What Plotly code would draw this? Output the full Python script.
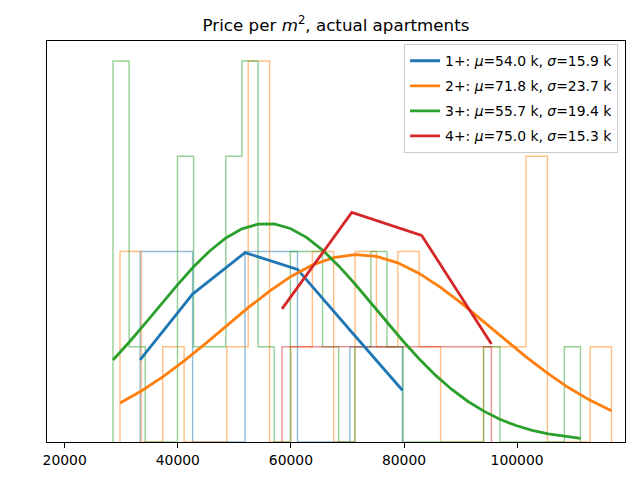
import plotly.graph_objects as go

# ---- data ----
groups = ["1+", "2+", "3+", "4+"]
mu_k = [54.0, 71.8, 55.7, 75.0]
sigma_k = [15.9, 23.7, 19.4, 15.3]
colors = ["31,119,180", "255,127,14", "44,160,44", "214,39,40"]

# histogram bin edges (price per m2) and counts
blue_edges = [33333, 42617, 51883, 61167, 70433, 79717]
blue_counts = [2, 0, 2, 0, 1]

orange_edges = [29779, 33558, 37337, 41116, 44895, 48674, 52453, 56232, 60011,
                63790, 67569, 71348, 75127, 78906, 82685, 86464, 90243, 94022,
                97801, 101580, 105359, 109138, 112917, 116696]
orange_counts = [2, 0, 1, 0, 0, 1, 4, 0, 1, 2, 0, 2, 1, 2, 1, 0, 0, 1, 1, 3, 0, 0, 1]

green_edges = [28541, 31392, 34242, 37093, 39943, 42794, 45645, 48495, 51346,
               54196, 57047, 59898, 62748, 65599, 68449, 71300, 74151, 77001,
               79852, 82702, 85553, 88404, 91254, 94105, 96955, 99806, 102657,
               105507, 108358, 111208]
green_counts = [4, 1, 0, 0, 3, 1, 1, 3, 4, 1, 0, 2, 2, 1, 0, 1, 2, 1, 0, 0, 0,
                0, 0, 1, 0, 0, 0, 0, 1]

red_edges = [58426, 70769, 83113, 95456]
red_counts = [1, 1, 1]

# fitted-normal curve heights at the bin edges (same vertical units as counts)
blue_curve = [0.862, 1.553, 1.988, 1.812, 1.176, 0.543]
orange_curve = [0.409, 0.535, 0.683, 0.851, 1.033, 1.222, 1.410, 1.585, 1.738,
                1.858, 1.936, 1.967, 1.948, 1.881, 1.770, 1.624, 1.453, 1.267,
                1.078, 0.893, 0.722, 0.569, 0.437, 0.327]
green_curve = [0.861, 1.047, 1.245, 1.449, 1.650, 1.839, 2.006, 2.142, 2.238,
               2.288, 2.289, 2.242, 2.148, 2.015, 1.849, 1.661, 1.460, 1.256,
               1.058, 0.871, 0.702, 0.554, 0.428, 0.324, 0.239, 0.173, 0.123,
               0.085, 0.058, 0.038]
red_curve = [1.397, 2.410, 2.170, 1.030]

edges_all = [blue_edges, orange_edges, green_edges, red_edges]
counts_all = [blue_counts, orange_counts, green_counts, red_counts]
curves_all = [blue_curve, orange_curve, green_curve, red_curve]

fig = go.Figure()

# step histograms (drawn below the curves)
for edges, counts, col in zip(edges_all, counts_all, colors):
    xs = [edges[0]] + list(edges)
    ys = [0] + list(counts) + [0]
    fig.add_trace(go.Scatter(
        x=xs, y=ys, mode="lines", line_shape="hv",
        line=dict(color=f"rgba({col},0.5)", width=1.4),
        showlegend=False, hoverinfo="skip"))

# normal curves
for g, m, s, edges, curve, col in zip(groups, mu_k, sigma_k, edges_all, curves_all, colors):
    name = f"{g}: <i>μ</i>={m:.1f} k, <i>σ</i>={s:.1f} k"
    fig.add_trace(go.Scatter(
        x=edges, y=curve, mode="lines", name=name, legendgroup=g,
        line=dict(color=f"rgb({col})", width=2.8)))

# the page places the figure 8 px from the top-left corner
W, H = 632, 472
font = "DejaVu Sans, sans-serif"
fig.update_layout(
    width=W, height=H,
    margin=dict(l=39, r=15, t=33, b=31),
    paper_bgcolor="white", plot_bgcolor="white",
    font=dict(family=font, size=13.9, color="black"),
    title=dict(text="Price per <i>m</i><sup>2</sup>, actual apartments",
               x=(39 + 617) / 2 / W, xanchor="center",
               y=1 - 17 / H, yanchor="middle", yref="container",
               font=dict(family=font, size=16.7, color="black")),
    legend=dict(x=0.988, xanchor="right", y=0.992, yanchor="top",
                bgcolor="rgba(255,255,255,0.8)", bordercolor="#cccccc",
                borderwidth=1, font=dict(family=font, size=13.9),
                tracegroupgap=4),
    showlegend=True,
)
fig.update_xaxes(range=[16870, 119080], showgrid=False, zeroline=False,
                 showline=True, linecolor="black", linewidth=1.1, mirror=True,
                 ticks="outside", ticklen=5, tickwidth=1.1, tickcolor="black",
                 tickvals=[20000, 40000, 60000, 80000, 100000],
                 ticktext=["20000", "40000", "60000", "80000", "100000"])
fig.update_yaxes(range=[0, 4.21], showgrid=False, zeroline=False,
                 showline=True, linecolor="black", linewidth=1.1, mirror=True,
                 showticklabels=False, ticks="")

fig.write_html("out.html")
